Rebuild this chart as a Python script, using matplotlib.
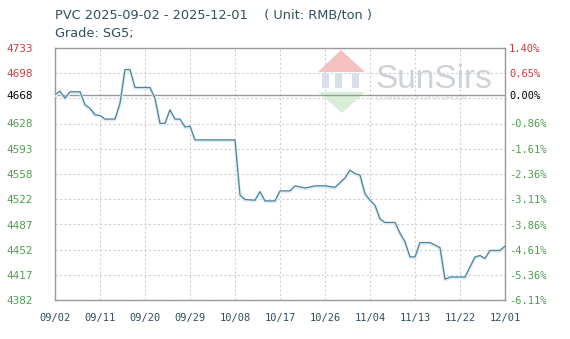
import numpy as np
import pandas as pd
import matplotlib
matplotlib.use("Agg")
import matplotlib.pyplot as plt
from matplotlib.patches import Polygon, Rectangle

# price points (date, RMB/ton)
dates = ["2025-09-02", "2025-09-03", "2025-09-04", "2025-09-05", "2025-09-07", "2025-09-08",
         "2025-09-09", "2025-09-10", "2025-09-11", "2025-09-12", "2025-09-14", "2025-09-15",
         "2025-09-16", "2025-09-17", "2025-09-18", "2025-09-21", "2025-09-22", "2025-09-23",
         "2025-09-24", "2025-09-25", "2025-09-26", "2025-09-27", "2025-09-28", "2025-09-29",
         "2025-09-30", "2025-10-08", "2025-10-09", "2025-10-10", "2025-10-12", "2025-10-13",
         "2025-10-14", "2025-10-16", "2025-10-17", "2025-10-19", "2025-10-20", "2025-10-22",
         "2025-10-24", "2025-10-26", "2025-10-28", "2025-10-30", "2025-10-31", "2025-11-01",
         "2025-11-02", "2025-11-03", "2025-11-04", "2025-11-05", "2025-11-06", "2025-11-07",
         "2025-11-09", "2025-11-10", "2025-11-11", "2025-11-12", "2025-11-13", "2025-11-14",
         "2025-11-16", "2025-11-18", "2025-11-19", "2025-11-20", "2025-11-23", "2025-11-25",
         "2025-11-26", "2025-11-27", "2025-11-28", "2025-11-30", "2025-12-01"]
prices = [4668, 4673, 4663, 4672, 4672, 4654,
          4649, 4640, 4639, 4634, 4634, 4656,
          4703, 4703, 4678, 4678, 4663, 4628,
          4628, 4647, 4634, 4634, 4623, 4624,
          4605, 4605, 4528, 4522, 4521, 4533,
          4520, 4520, 4534, 4534, 4541, 4538,
          4541, 4541, 4539, 4552, 4563, 4558,
          4556, 4530, 4521, 4514, 4495, 4490,
          4490, 4475, 4463, 4442, 4442, 4462,
          4462, 4455, 4411, 4414, 4414, 4442,
          4444, 4440, 4451, 4451, 4457]

base_price = 4668
y_labels = ["4733", "4698", "4668", "4628", "4593", "4558", "4522", "4487", "4452", "4417", "4382"]
pct_labels = ["1.40%", "0.65%", "0.00%", "-0.86%", "-1.61%", "-2.36%", "-3.11%",
              "-3.86%", "-4.61%", "-5.36%", "-6.11%"]
x_labels = ["09/02", "09/11", "09/20", "09/29", "10/08", "10/17", "10/26",
            "11/04", "11/13", "11/22", "12/01"]

df = pd.DataFrame({"date": pd.to_datetime(dates), "price": prices})
start = pd.Timestamp("2025-09-02")
df["day"] = (df["date"] - start).dt.days

y_min, y_max = 4382, 4733
red = "#cc3a3a"
green = "#4e9e4e"

fig = plt.figure(figsize=(5.7, 3.39), dpi=100)
ax = fig.add_axes([55 / 570, 1 - 300 / 339, 450 / 570, 252 / 339])
ax.set_xlim(0, 90)
ax.set_ylim(y_min, y_max)

# grid
for k in range(11):
    gy = y_min + (y_max - y_min) * k / 10
    ax.axhline(gy, color="#cfcfcf", lw=0.8, ls=(0, (2, 2)), zorder=1)
    ax.axvline(9 * k, color="#cfcfcf", lw=0.8, ls=(0, (2, 2)), zorder=1)
ax.axhline(base_price, color="#9a9a9a", lw=1.0, zorder=2)

# watermark logo, placed in pixel terms of the 570x339 picture
def fx(px):
    return (px - 55) / 450

def fy(py):
    return (300 - py) / 252

ax.add_patch(Polygon([(fx(318), fy(72)), (fx(341), fy(50)), (fx(365), fy(72))],
                     closed=True, transform=ax.transAxes, color="#f5c0c0", lw=0, zorder=1.5))
ax.add_patch(Polygon([(fx(318), fy(92)), (fx(342), fy(113)), (fx(365), fy(92))],
                     closed=True, transform=ax.transAxes, color="#d9eed9", lw=0, zorder=1.5))
for bx in (322, 335, 352):
    ax.add_patch(Rectangle((fx(bx), fy(88)), 7 / 450, 15 / 252, transform=ax.transAxes,
                           color="#dadeea", lw=0, zorder=1.6))
ax.text(fx(375), fy(88), "SunSirs", transform=ax.transAxes, fontsize=24,
        fontfamily="Liberation Sans", color="#cdd1d8", ha="left", va="baseline", zorder=1.6)
ax.text(fx(376), fy(98), "COMMODITY DATA GROUP", transform=ax.transAxes, fontsize=5,
        fontfamily="Liberation Sans", color="#d6d8de", ha="left", va="center", zorder=1.6)

# price line with soft glow
ax.plot(df["day"], df["price"] - 1.2, color="#dceff7", lw=2.2, zorder=3, solid_joinstyle="round")
ax.plot(df["day"], df["price"], color="#4f8199", lw=0.9, zorder=4)

for s in ax.spines.values():
    s.set_color("#9a9a9a")
    s.set_linewidth(1.0)

ax.set_xticks(range(0, 91, 9))
ax.set_xticklabels(x_labels, fontfamily="DejaVu Sans Mono", fontsize=7.5, color="#2f4f5f")
ax.tick_params(axis="x", length=0, pad=9)

y_pos = [float(v) for v in y_labels]
ax.set_yticks(y_pos)
ax.set_yticklabels(y_labels, fontsize=7.5)
ax.tick_params(axis="y", length=0, pad=16)
for lab, v in zip(ax.get_yticklabels(), y_pos):
    lab.set_color(red if v > base_price else ("black" if v == base_price else green))

ax2 = ax.twinx()
ax2.set_ylim(y_min, y_max)
ax2.set_yticks(y_pos)
ax2.set_yticklabels(pct_labels, fontfamily="DejaVu Sans Mono", fontsize=7.5)
ax2.tick_params(axis="y", length=0, pad=3)
for lab, v in zip(ax2.get_yticklabels(), y_pos):
    lab.set_color(red if v > base_price else ("black" if v == base_price else green))
for s in ax2.spines.values():
    s.set_visible(False)

fig.text(55 / 570, 1 - 15 / 339, "PVC 2025-09-02 - 2025-12-01    ( Unit: RMB/ton )",
         fontsize=9.3, color="#2f4f5f", ha="left", va="center")
fig.text(55 / 570, 1 - 33 / 339, "Grade: SG5;", fontsize=9.3, color="#2f4f5f",
         ha="left", va="center")

fig.savefig("out.png", dpi=100)
